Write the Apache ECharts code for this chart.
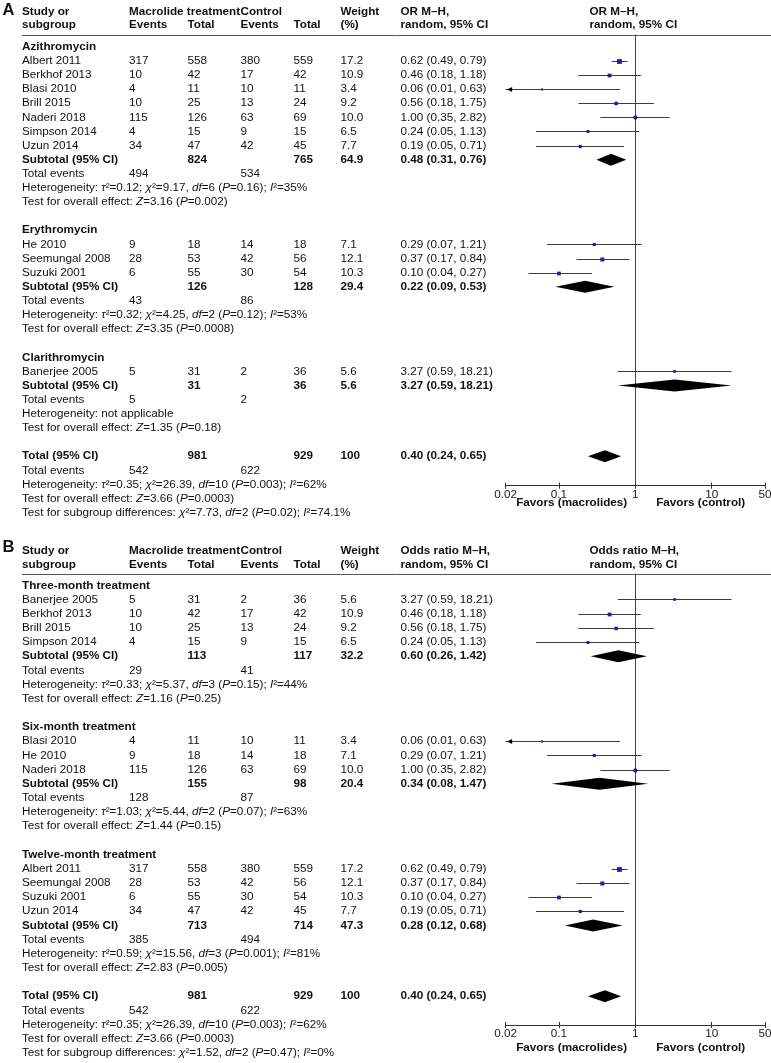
<!DOCTYPE html>
<html><head><meta charset="utf-8">
<script src="https://cdn.jsdelivr.net/npm/echarts@6/dist/echarts.min.js"></script>
<style>html,body{margin:0;padding:0;background:#fff}#c{width:771px;height:1063px}</style>
</head><body><div id="c"></div>
<script>
// ---------------- DATA ----------------
const studyNames = ['Albert 2011','Berkhof 2013','Blasi 2010','Brill 2015','Naderi 2018','Simpson 2014','Uzun 2014','He 2010','Seemungal 2008','Suzuki 2001','Banerjee 2005'];
const macEvents  = [317, 10, 4, 10, 115, 4, 34, 9, 28, 6, 5];
const macTotal   = [558, 42, 11, 25, 126, 15, 47, 18, 53, 55, 31];
const ctlEvents  = [380, 17, 10, 13, 63, 9, 42, 14, 42, 30, 2];
const ctlTotal   = [559, 42, 11, 24, 69, 15, 45, 18, 56, 54, 36];
const weights    = [17.2, 10.9, 3.4, 9.2, 10.0, 6.5, 7.7, 7.1, 12.1, 10.3, 5.6];
const orEst      = [0.62, 0.46, 0.06, 0.56, 1.00, 0.24, 0.19, 0.29, 0.37, 0.10, 3.27];
const orLow      = [0.49, 0.18, 0.01, 0.18, 0.35, 0.05, 0.05, 0.07, 0.17, 0.04, 0.59];
const orHigh     = [0.79, 1.18, 0.63, 1.75, 2.82, 1.13, 0.71, 1.21, 0.84, 0.27, 18.21];

// Panel A: by drug
const groupsA  = ['Azithromycin','Erythromycin','Clarithromycin'];
const membersA = [['Albert 2011','Berkhof 2013','Blasi 2010','Brill 2015','Naderi 2018','Simpson 2014','Uzun 2014'],['He 2010','Seemungal 2008','Suzuki 2001'],['Banerjee 2005']];
const subMacTotalA = [824, 126, 31];
const subCtlTotalA = [765, 128, 36];
const subWeightA   = [64.9, 29.4, 5.6];
const subOrA       = [0.48, 0.22, 3.27];
const subLowA      = [0.31, 0.09, 0.59];
const subHighA     = [0.76, 0.53, 18.21];
const subMacEventsA = [494, 43, 5];
const subCtlEventsA = [534, 86, 2];
const hetTau2A = ['0.12','0.32',null];
const hetChi2A = ['9.17','4.25',null];
const hetDfA   = ['6','2',null];
const hetPA    = ['0.16','0.12',null];
const hetI2A   = ['35%','53%',null];
const zA       = ['3.16','3.35','1.35'];
const zPA      = ['0.002','0.0008','0.18'];
const sgTestA  = ['7.73','2','0.02','74.1%'];

// Panel B: by duration
const groupsB  = ['Three-month treatment','Six-month treatment','Twelve-month treatment'];
const membersB = [['Banerjee 2005','Berkhof 2013','Brill 2015','Simpson 2014'],['Blasi 2010','He 2010','Naderi 2018'],['Albert 2011','Seemungal 2008','Suzuki 2001','Uzun 2014']];
const subMacTotalB = [113, 155, 713];
const subCtlTotalB = [117, 98, 714];
const subWeightB   = [32.2, 20.4, 47.3];
const subOrB       = [0.60, 0.34, 0.28];
const subLowB      = [0.26, 0.08, 0.12];
const subHighB     = [1.42, 1.47, 0.68];
const subMacEventsB = [29, 128, 385];
const subCtlEventsB = [41, 87, 494];
const hetTau2B = ['0.33','1.03','0.59'];
const hetChi2B = ['5.37','5.44','15.56'];
const hetDfB   = ['3','2','3'];
const hetPB    = ['0.15','0.07','0.001'];
const hetI2B   = ['44%','63%','81%'];
const zB       = ['1.16','1.44','2.83'];
const zPB      = ['0.25','0.15','0.005'];
const sgTestB  = ['1.52','2','0.47','0%'];

// Overall
const totalMac = 981, totalCtl = 929, totalWeight = '100';
const totalOr = [0.40, 0.24, 0.65];
const totalEvents = [542, 622];
const totalHet = ['0.35','26.39','10','0.003','62%'];
const totalZ = ['3.66','0.0003'];

// Axis ticks
const tickValues = [0.02, 0.1, 1, 10, 50];
const tickLabels = ['0.02','0.1','1','10','50'];

// ---------------- LAYOUT ----------------
const FONT = '"Liberation Sans", Arial, Helvetica, sans-serif';
const FS = 11.7;
const TXT = '#111';
const X = {name:22, e1:129, t1:187.5, e2:240.5, t2:293.5, w:340.5, or:400.5, hdrR:589.5};
const PANELS = [
  {top:35,  axisY:485.7, row0:46.7,  rowH:14.12, hdr1:11.7, hdr2:25,    letter:'A', letterY:10,
   orHdr:'OR M\u2013H,', favY:503},
  {top:574, axisY:1025,  row0:585.3, rowH:14.17, hdr1:551,  hdr2:564.5, letter:'B', letterY:547.5,
   orHdr:'Odds ratio M\u2013H,', favY:1048}
];
const GRID_LEFT = 505.6, GRID_RIGHT = 6;
const LMIN = Math.log10(tickValues[0]), LMAX = Math.log10(tickValues[tickValues.length-1]);
const tickLog = tickValues.map(v => Math.log10(v));

function fmt2(v){ return v.toFixed(2); }
function orText(e,l,h){ return fmt2(e)+' ('+fmt2(l)+', '+fmt2(h)+')'; }
function hetStr(t,c,d,p,i){
  if (t === null) return 'Heterogeneity: not applicable';
  return 'Heterogeneity: {i|\u03c4}\u00b2='+t+'; {i|\u03c7}\u00b2='+c+', {i|df}='+d+' ({i|P}='+p+'); {i|I}\u00b2='+i;
}
function testStr(z,p){ return 'Test for overall effect: {i|Z}='+z+' ({i|P}='+p+')'; }
function sgStr(s){ return 'Test for subgroup differences: {i|\u03c7}\u00b2='+s[0]+', {i|df}='+s[1]+' ({i|P}='+s[2]+'); {i|I}\u00b2='+s[3]; }

function buildRows(P){
  const rows = []; let k = 0;
  P.groups.forEach((g, gi) => {
    rows.push({k:k++, kind:'head', label:g});
    P.members[gi].forEach(n => rows.push({k:k++, kind:'study', i:studyNames.indexOf(n)}));
    rows.push({k:k++, kind:'sub', label:'Subtotal (95% CI)', t1:P.subMac[gi], t2:P.subCtl[gi], w:P.subW[gi].toFixed(1),
               or:[P.subOr[gi], P.subLo[gi], P.subHi[gi]]});
    rows.push({k:k++, kind:'events', e1:P.evMac[gi], e2:P.evCtl[gi]});
    rows.push({k:k++, kind:'rich', text:hetStr(P.tau[gi],P.chi[gi],P.df[gi],P.p[gi],P.i2[gi])});
    rows.push({k:k++, kind:'rich', text:testStr(P.z[gi],P.zp[gi])});
    k++;
  });
  rows.push({k:k++, kind:'sub', label:'Total (95% CI)', t1:totalMac, t2:totalCtl, w:totalWeight, or:totalOr});
  rows.push({k:k++, kind:'events', e1:totalEvents[0], e2:totalEvents[1]});
  rows.push({k:k++, kind:'rich', text:hetStr(...totalHet)});
  rows.push({k:k++, kind:'rich', text:testStr(totalZ[0], totalZ[1])});
  rows.push({k:k++, kind:'rich', text:sgStr(P.sg)});
  return rows;
}

const rowsA = buildRows({groups:groupsA, members:membersA, subMac:subMacTotalA, subCtl:subCtlTotalA, subW:subWeightA,
  subOr:subOrA, subLo:subLowA, subHi:subHighA, evMac:subMacEventsA, evCtl:subCtlEventsA,
  tau:hetTau2A, chi:hetChi2A, df:hetDfA, p:hetPA, i2:hetI2A, z:zA, zp:zPA, sg:sgTestA});
const rowsB = buildRows({groups:groupsB, members:membersB, subMac:subMacTotalB, subCtl:subCtlTotalB, subW:subWeightB,
  subOr:subOrB, subLo:subLowB, subHi:subHighB, evMac:subMacEventsB, evCtl:subCtlEventsB,
  tau:hetTau2B, chi:hetChi2B, df:hetDfB, p:hetPB, i2:hetI2B, z:zB, zp:zPB, sg:sgTestB});
const ROWS = [rowsA, rowsB];

const RICH = {i:{fontStyle:'italic', fontSize:FS, fontFamily:FONT, fill:TXT}};
function T(x, y, text, bold, rich){
  const st = {text:String(text), fill:TXT, fontSize:FS, fontFamily:FONT, fontWeight:bold?'bold':'normal',
              align:'left', verticalAlign:'middle'};
  if (rich) st.rich = RICH;
  return {type:'text', x:x, y:y, silent:true, style:st};
}

function textSeries(pi){
  const rows = ROWS[pi];
  return {
    type:'custom', xAxisIndex:pi*2, yAxisIndex:pi, clip:false, silent:true,
    data: rows.map(r => [0, r.k]),
    renderItem: function(params, api){
      const r = rows[params.dataIndex];
      const y = api.coord([0, api.value(1)])[1];
      const ch = [];
      if (r.kind === 'head') ch.push(T(X.name, y, r.label, true));
      else if (r.kind === 'study') {
        const i = r.i;
        ch.push(T(X.name, y, studyNames[i]));
        ch.push(T(X.e1, y, macEvents[i])); ch.push(T(X.t1, y, macTotal[i]));
        ch.push(T(X.e2, y, ctlEvents[i])); ch.push(T(X.t2, y, ctlTotal[i]));
        ch.push(T(X.w, y, weights[i].toFixed(1)));
        ch.push(T(X.or, y, orText(orEst[i], orLow[i], orHigh[i])));
      } else if (r.kind === 'sub') {
        ch.push(T(X.name, y, r.label, true));
        ch.push(T(X.t1, y, r.t1, true)); ch.push(T(X.t2, y, r.t2, true));
        ch.push(T(X.w, y, r.w, true));
        ch.push(T(X.or, y, orText(r.or[0], r.or[1], r.or[2]), true));
      } else if (r.kind === 'events') {
        ch.push(T(X.name, y, 'Total events'));
        ch.push(T(X.e1, y, r.e1)); ch.push(T(X.e2, y, r.e2));
      } else if (r.kind === 'rich') {
        ch.push(T(X.name, y, r.text, false, true));
      }
      return {type:'group', children:ch};
    }
  };
}

function forestSeries(pi){
  const rows = ROWS[pi];
  const data = [];
  rows.forEach(r => {
    if (r.kind === 'study') {
      const i = r.i;
      data.push([Math.log10(orEst[i]), Math.log10(Math.max(orLow[i], tickValues[0])), Math.log10(Math.min(orHigh[i], tickValues[4])),
                 r.k, weights[i], orLow[i] < tickValues[0] ? 1 : 0, 0]);
    } else if (r.kind === 'sub') {
      data.push([Math.log10(r.or[0]), Math.log10(r.or[1]), Math.log10(r.or[2]), r.k, 0, 0, 1]);
    }
  });
  return {
    type:'custom', xAxisIndex:pi*2, yAxisIndex:pi, clip:false, silent:true, data:data,
    renderItem: function(params, api){
      const k = api.value(3);
      const pe = api.coord([api.value(0), k]);
      const lo = api.coord([api.value(1), k]);
      const hi = api.coord([api.value(2), k]);
      if (api.value(6) === 1) {
        const y = pe[1], h = 6;
        return {type:'polygon', shape:{points:[[lo[0], y],[pe[0], y-h],[hi[0], y],[pe[0], y+h]]},
                style:{fill:'#000', stroke:null}};
      }
      const y = Math.round(pe[1]) + 0.5;
      const s = Math.max(2, Math.sqrt(api.value(4)) * 1.15);
      const ch = [
        {type:'line', shape:{x1:lo[0], y1:y, x2:hi[0], y2:y}, style:{stroke:'#3c3c3c', lineWidth:1}},
        {type:'rect', shape:{x:pe[0]-s/2, y:y-s/2, width:s, height:s}, style:{fill:'#1c1ca8'}}
      ];
      if (api.value(5) === 1) {
        ch.push({type:'polygon', shape:{points:[[lo[0]+1.5, y],[lo[0]+6.5, y-2.5],[lo[0]+6.5, y+2.5]]}, style:{fill:'#000'}});
      }
      return {type:'group', children:ch};
    }
  };
}

function labelFor(v){
  const idx = tickLog.findIndex(t => Math.abs(t - v) < 1e-6);
  return idx >= 0 ? tickLabels[idx] : '';
}

const grids = [], xAxes = [], yAxes = [], series = [], graphics = [];
PANELS.forEach((P, pi) => {
  grids.push({left:GRID_LEFT, right:GRID_RIGHT, top:P.top, height:P.axisY - P.top, containLabel:false, outerBoundsMode:'none'});
  xAxes.push({
    type:'value', gridIndex:pi, min:LMIN, max:LMAX, position:'bottom',
    axisLine:{show:true, onZero:false, lineStyle:{color:'#333', width:1}},
    axisTick:{show:true, length:3, inside:false, customValues:tickLog, lineStyle:{color:'#333'}},
    axisLabel:{show:true, customValues:tickLog, formatter:labelFor, margin:3, color:'#222', fontSize:FS, fontFamily:FONT,
               showMinLabel:true, showMaxLabel:true, hideOverlap:false},
    splitLine:{show:false}
  });
  xAxes.push({
    type:'value', gridIndex:pi, min:LMIN, max:LMAX, position:'bottom',
    axisLine:{show:false, onZero:false},
    axisTick:{show:true, length:3, inside:true, customValues:tickLog, lineStyle:{color:'#333'}},
    axisLabel:{show:false}, splitLine:{show:false}
  });
  yAxes.push({
    type:'value', gridIndex:pi, inverse:true,
    min:(P.top - P.row0) / P.rowH, max:(P.axisY - P.row0) / P.rowH,
    axisLine:{show:true, onZero:true, lineStyle:{color:'#444', width:1}},
    axisTick:{show:false}, axisLabel:{show:false}, splitLine:{show:false}
  });
  series.push(textSeries(pi));
  series.push(forestSeries(pi));

  // headers
  const H = (x, y, t, bold, size) => ({type:'text', x:x, y:y, silent:true,
    style:{text:t, fill:TXT, font:(bold?'bold ':'')+(size||FS)+'px '+FONT, textAlign:'left', textVerticalAlign:'middle'}});
  graphics.push(H(2.5, P.letterY, P.letter, true, 16.5));
  graphics.push(H(X.name, P.hdr1, 'Study or', true));
  graphics.push(H(X.name, P.hdr2, 'subgroup', true));
  graphics.push(H(X.e1, P.hdr1, 'Macrolide treatment', true));
  graphics.push(H(X.e1, P.hdr2, 'Events', true));
  graphics.push(H(X.t1, P.hdr2, 'Total', true));
  graphics.push(H(X.e2, P.hdr1, 'Control', true));
  graphics.push(H(X.e2, P.hdr2, 'Events', true));
  graphics.push(H(X.t2, P.hdr2, 'Total', true));
  graphics.push(H(X.w, P.hdr1, 'Weight', true));
  graphics.push(H(X.w, P.hdr2, '(%)', true));
  graphics.push(H(X.or, P.hdr1, P.orHdr, true));
  graphics.push(H(X.or, P.hdr2, 'random, 95% CI', true));
  graphics.push(H(X.hdrR, P.hdr1, P.orHdr, true));
  graphics.push(H(X.hdrR, P.hdr2, 'random, 95% CI', true));
  graphics.push({type:'line', silent:true, shape:{x1:22, y1:P.top + 0.5, x2:771, y2:P.top + 0.5}, style:{stroke:'#555', lineWidth:1}});
  graphics.push({type:'text', x:571.7, y:P.favY, silent:true,
    style:{text:'Favors (macrolides)', fill:TXT, font:'bold '+FS+'px '+FONT, textAlign:'center', textVerticalAlign:'middle'}});
  graphics.push({type:'text', x:700.7, y:P.favY, silent:true,
    style:{text:'Favors (control)', fill:TXT, font:'bold '+FS+'px '+FONT, textAlign:'center', textVerticalAlign:'middle'}});
});

const chart = echarts.init(document.getElementById('c'), null, {renderer:'canvas', width:771, height:1063});
chart.setOption({
  animation:false,
  backgroundColor:'#fff',
  grid:grids, xAxis:xAxes, yAxis:yAxes, series:series, graphic:graphics
});
</script>
</body></html>
